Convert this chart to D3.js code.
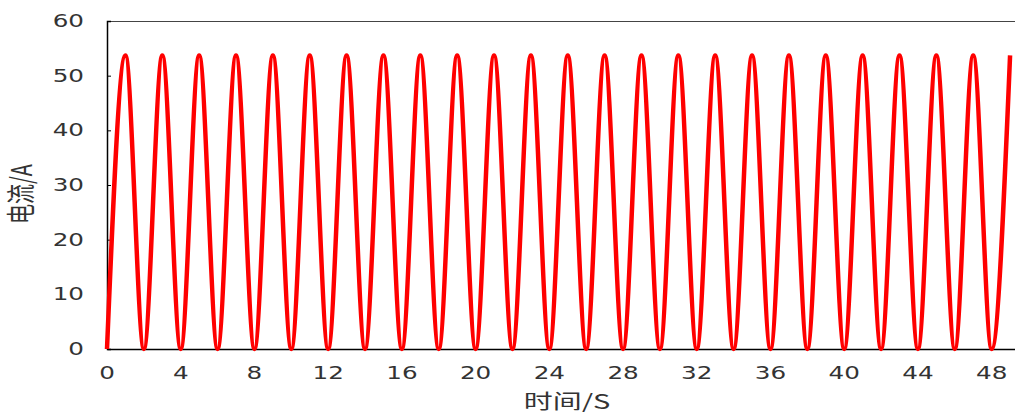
<!DOCTYPE html>
<html>
<head>
<meta charset="utf-8">
<script src="https://cdn.jsdelivr.net/npm/d3@7"></script>
<style>
  body { margin: 0; background: #fff; }
  text { font-family: "DejaVu Sans", Verdana, sans-serif; }
</style>
</head>
<body>
<div id="container"></div>
<script>
// peaks (odd seconds) and troughs (even seconds)
const time = [0,1,2,3,4,5,6,7,8,9,10,11,12,13,14,15,16,17,18,19,20,21,22,23,24,
  25,26,27,28,29,30,31,32,33,34,35,36,37,38,39,40,41,42,43,44,45,46,47,48,49];
const current = [0,53.7,0,53.7,0,53.7,0,53.7,0,53.7,0,53.7,0,53.7,0,53.7,0,53.7,0,53.7,
  0,53.7,0,53.7,0,53.7,0,53.7,0,53.7,0,53.7,0,53.7,0,53.7,0,53.7,0,53.7,
  0,53.7,0,53.7,0,53.7,0,53.7,0,53.7];
const xTicks = [0,4,8,12,16,20,24,28,32,36,40,44,48];
const yTicks = [0,10,20,30,40,50,60];

const dims = { width: 1015, height: 412, left: 107, top: 21, bottom: 349 };
const pxPerSec = 18.43;
const stretch = 1.45; // text in the original is widened horizontally

const svg = d3.select("#container").append("svg")
  .attr("width", dims.width).attr("height", dims.height);

const x = d3.scaleLinear()
  .domain([0, (dims.width + 2 - dims.left) / pxPerSec])
  .range([dims.left, dims.width + 2]);
const y = d3.scaleLinear().domain([0, 60]).range([dims.bottom, dims.top]);

// top frame line
svg.append("line")
  .attr("x1", dims.left).attr("x2", dims.width)
  .attr("y1", dims.top + 0.5).attr("y2", dims.top + 0.5)
  .attr("stroke", "#444").attr("stroke-width", 1.2);

// y axis
const yAxis = svg.append("g")
  .attr("transform", `translate(${dims.left},0)`)
  .call(d3.axisRight(y).tickValues(yTicks).tickSize(4).tickFormat(""));
yAxis.select(".domain").attr("stroke", "#000").attr("stroke-width", 1.5);
yAxis.selectAll(".tick line").attr("stroke", "#000");

svg.selectAll(".ylab").data(yTicks).enter().append("text")
  .attr("transform", d => `translate(84,${y(d)}) scale(${stretch},1)`)
  .attr("dy", "0.36em")
  .attr("text-anchor", "end")
  .attr("font-size", 17).attr("fill", "#333")
  .text(d => d);

// x axis
const xAxis = svg.append("g")
  .attr("transform", `translate(0,${dims.bottom})`)
  .call(d3.axisBottom(x).tickValues(xTicks).tickSize(0).tickFormat(""));
xAxis.select(".domain").attr("stroke", "#000").attr("stroke-width", 1.5);

svg.selectAll(".xlab").data(xTicks).enter().append("text")
  .attr("transform", d => `translate(${x(d)},373) scale(${stretch},1)`)
  .attr("dy", "0.36em")
  .attr("text-anchor", "middle")
  .attr("font-size", 17).attr("fill", "#333")
  .text(d => d);

// axis titles
svg.append("text")
  .attr("transform", `translate(567,402) scale(${stretch},1)`)
  .attr("dy", "0.36em")
  .attr("text-anchor", "middle")
  .attr("font-size", 20).attr("fill", "#333")
  .style("font-family", "'Noto Sans CJK SC', sans-serif")
  .text("时间/S");

svg.append("text")
  .attr("transform", `translate(22,194) scale(${stretch},1) rotate(-90)`)
  .attr("dy", "0.36em")
  .attr("text-anchor", "middle")
  .attr("font-size", 20).attr("fill", "#333")
  .style("font-family", "'Noto Sans CJK SC', sans-serif")
  .text("电流/A");

// current curve
const line = d3.line()
  .x((d, i) => x(time[i]))
  .y(d => y(d))
  .curve(d3.curveMonotoneX);

svg.append("path")
  .datum(current)
  .attr("d", line)
  .attr("fill", "none")
  .attr("stroke", "#ff0000")
  .attr("stroke-width", 4.5)
  .attr("stroke-linejoin", "round");
</script>
</body>
</html>
